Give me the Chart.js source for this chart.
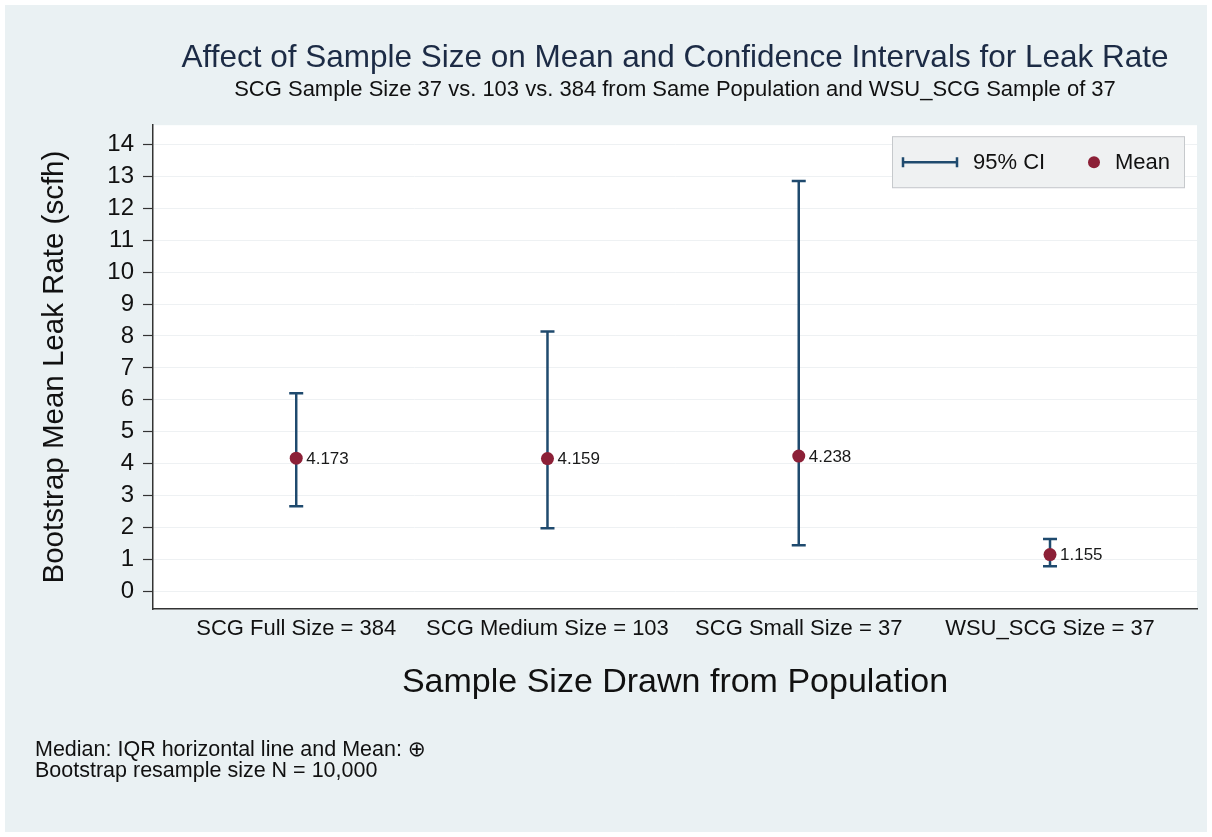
<!DOCTYPE html>
<html><head><meta charset="utf-8">
<script src="https://cdn.jsdelivr.net/npm/chart.js@4.4.0/dist/chart.umd.min.js"></script>
<style>html,body{margin:0;padding:0;background:#fff}canvas{display:block}</style>
</head><body>
<canvas id="c" width="1212" height="837"></canvas>
<script>
const categories = ["SCG Full Size = 384", "SCG Medium Size = 103", "SCG Small Size = 37", "WSU_SCG Size = 37"];
const categoryPositions = [1, 2, 3, 4];
const means = [4.173, 4.159, 4.238, 1.155];
const ciLower = [2.67, 1.98, 1.45, 0.79];
const ciUpper = [6.21, 8.14, 12.85, 1.64];
const yTicks = [0, 1, 2, 3, 4, 5, 6, 7, 8, 9, 10, 11, 12, 13, 14];
const titleText = "Affect of Sample Size on Mean and Confidence Intervals for Leak Rate";
const subtitleText = "SCG Sample Size 37 vs. 103 vs. 384 from Same Population and WSU_SCG Sample of 37";
const yTitle = "Bootstrap Mean Leak Rate (scfh)";
const xTitle = "Sample Size Drawn from Population";
const legendLabels = ["95% CI", "Mean"];
const notes = ["Median: IQR horizontal line and Mean: \u2295", "Bootstrap resample size N = 10,000"];

const FONT = "'Liberation Sans', Arial, 'DejaVu Sans', sans-serif";
const CI_COLOR = '#1f4a6e';
const MEAN_COLOR = '#8c2037';
Chart.defaults.font.family = FONT;
Chart.defaults.color = '#111';

const meanData = categoryPositions.map((x, i) => ({x: x, y: means[i]}));
const ciData = [];
categoryPositions.forEach((x, i) => {
  ciData.push({x: x, y: ciLower[i]});
  ciData.push({x: x, y: ciUpper[i]});
  ciData.push({x: x + 0.5, y: null});
});

const decorPlugin = {
  id: 'decor',
  beforeDraw(chart) {
    const {ctx, chartArea: a} = chart;
    ctx.save();
    ctx.fillStyle = '#ffffff';
    ctx.fillRect(0, 0, chart.width, chart.height);
    ctx.fillStyle = '#eaf1f3';
    ctx.fillRect(5, 5, chart.width - 10, chart.height - 10);
    ctx.fillStyle = '#ffffff';
    ctx.fillRect(a.left, a.top, a.right - a.left, a.bottom - a.top);
    ctx.restore();
  },
  afterDatasetsDraw(chart) {
    const {ctx, chartArea: a} = chart;
    ctx.save();
    // value labels
    const meta = chart.getDatasetMeta(0);
    ctx.font = "17px " + FONT;
    ctx.fillStyle = '#1a1a1a';
    ctx.textAlign = 'left';
    ctx.textBaseline = 'middle';
    meta.data.forEach((pt, i) => {
      ctx.fillText(means[i].toFixed(3), pt.x + 10, pt.y + 1);
    });
    // legend box
    const bw = 293, bh = 52;
    const bx = a.right - 12 - bw, by = a.top + 11;
    ctx.fillStyle = '#eff1f2';
    ctx.fillRect(bx, by, bw, bh);
    ctx.strokeStyle = '#c6c9cc';
    ctx.lineWidth = 1;
    ctx.strokeRect(bx + 0.5, by + 0.5, bw - 1, bh - 1);
    const cy = by + bh / 2;
    ctx.strokeStyle = CI_COLOR;
    ctx.lineWidth = 2.5;
    ctx.beginPath();
    ctx.moveTo(bx + 11, cy); ctx.lineTo(bx + 65, cy);
    ctx.moveTo(bx + 11, cy - 5); ctx.lineTo(bx + 11, cy + 5);
    ctx.moveTo(bx + 65, cy - 5); ctx.lineTo(bx + 65, cy + 5);
    ctx.stroke();
    ctx.font = "22px " + FONT;
    ctx.fillStyle = '#111';
    ctx.fillText(legendLabels[0], bx + 81, cy + 1);
    ctx.fillStyle = MEAN_COLOR;
    ctx.beginPath();
    ctx.arc(bx + 202, cy, 6, 0, Math.PI * 2);
    ctx.fill();
    ctx.fillStyle = '#111';
    ctx.fillText(legendLabels[1], bx + 223, cy + 1);
    // notes
    ctx.font = "21.5px " + FONT;
    ctx.fillStyle = '#111';
    ctx.fillText(notes[0], 35, 750);
    ctx.fillText(notes[1], 35, 771);
    ctx.restore();
  }
};

new Chart(document.getElementById('c'), {
  type: 'scatter',
  data: {
    datasets: [
      {
        label: legendLabels[1],
        data: meanData,
        pointRadius: 6.5,
        pointHoverRadius: 6.5,
        backgroundColor: MEAN_COLOR,
        borderColor: MEAN_COLOR,
        borderWidth: 0
      },
      {
        type: 'line',
        label: legendLabels[0],
        data: ciData,
        spanGaps: false,
        borderColor: CI_COLOR,
        borderWidth: 2.5,
        pointStyle: 'line',
        pointRadius: 7,
        pointHoverRadius: 7,
        pointBorderWidth: 2.5,
        pointBorderColor: CI_COLOR,
        pointBackgroundColor: CI_COLOR,
        fill: false,
        tension: 0
      }
    ]
  },
  options: {
    responsive: false,
    animation: false,
    events: [],
    layout: { padding: { top: 39, left: 25, right: 15, bottom: 133.6 } },
    plugins: {
      legend: { display: false },
      tooltip: { enabled: false },
      title: {
        display: true, text: titleText, fullSize: false,
        color: '#1c2b45',
        font: { size: 31.5, weight: 'normal', family: FONT },
        padding: { top: 0, bottom: 0 }
      },
      subtitle: {
        display: true, text: subtitleText, fullSize: false,
        color: '#111',
        font: { size: 22, weight: 'normal', family: FONT },
        padding: { top: 0, bottom: 22 }
      }
    },
    scales: {
      x: {
        type: 'linear',
        min: 0.43, max: 4.585,
        afterBuildTicks(scale) { scale.ticks = categoryPositions.map(v => ({value: v})); },
        afterFit(scale) { scale.height = 94.4; },
        ticks: {
          callback: (v) => categories[categoryPositions.indexOf(v)] || '',
          font: { size: 22 }, color: '#111', padding: 7, maxRotation: 0, autoSkip: false
        },
        grid: { display: true, color: 'rgba(0,0,0,0)', drawTicks: false },
        border: { display: true, color: '#333', width: 1.5 },
        title: {
          display: true, text: xTitle, color: '#111',
          font: { size: 34 }, padding: { top: 0, bottom: 0 }
        }
      },
      y: {
        type: 'linear',
        min: -0.55, max: 14.6,
        afterBuildTicks(scale) { scale.ticks = yTicks.map(v => ({value: v})); },
        afterFit(scale) { scale.width = 128; },
        ticks: { font: { size: 24 }, color: '#111', padding: 9, autoSkip: false },
        grid: { color: '#eef1f3', lineWidth: 1, tickColor: '#333', tickLength: 10, tickWidth: 1.2 },
        border: { display: true, color: '#333', width: 1.5 },
        title: {
          display: true, text: yTitle, color: '#111',
          font: { size: 29.5 }, padding: { top: 12, bottom: 0 }
        }
      }
    }
  },
  plugins: [decorPlugin]
});
</script>
</body></html>
